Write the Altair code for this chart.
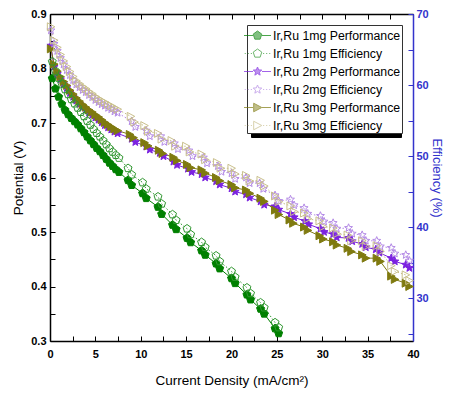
import altair as alt
import pandas as pd

# ---------------- data ----------------
series_names = ["Ir,Ru 1mg Performance", "Ir,Ru 1mg Efficiency",
                "Ir,Ru 2mg Performance", "Ir,Ru 2mg Efficiency",
                "Ir,Ru 3mg Performance", "Ir,Ru 3mg Efficiency"]

current_1mg = [0.25, 0.6, 0.95, 1.3, 1.65, 2.0, 2.35, 2.7, 3.05, 3.4, 3.75, 4.1, 4.45, 4.8, 5.15, 5.5,
               5.85, 6.2, 6.55, 6.9, 7.25, 7.6,
               8.6, 9.0, 10.2, 10.6, 11.9, 12.3, 13.5, 13.9, 15.1, 15.5, 16.7, 17.1, 18.3, 18.7,
               20.0, 20.4, 21.7, 22.1, 23.2, 23.6, 24.8, 25.2]
potential_1mg = [0.782, 0.763, 0.748, 0.735, 0.724, 0.716, 0.709, 0.703, 0.697, 0.690, 0.683, 0.675,
                 0.668, 0.661, 0.654, 0.648, 0.641, 0.634, 0.627, 0.621, 0.615, 0.610,
                 0.595, 0.586, 0.571, 0.562, 0.546, 0.533, 0.513, 0.505, 0.489, 0.481, 0.466, 0.458,
                 0.442, 0.433, 0.415, 0.406, 0.385, 0.376, 0.359, 0.350, 0.323, 0.314]
efficiency_1mg = [63.3, 62.0, 61.0, 60.2, 59.4, 58.7, 58.0, 57.4, 56.8, 56.2, 55.6, 54.95, 54.4, 53.8,
                  53.25, 52.75, 52.2, 51.65, 51.1, 50.6, 50.15, 49.75,
                  48.3, 47.4, 46.3, 45.4, 44.3, 43.3, 41.8, 41.0, 39.8, 39.0, 37.9, 37.2, 36.0, 35.2,
                  33.8, 33.0, 31.5, 30.7, 29.4, 28.7, 26.6, 25.9]

current_dense = [0.1, 0.45, 0.8, 1.15, 1.5, 1.85, 2.2, 2.55, 2.9, 3.25, 3.6, 3.95, 4.3, 4.65, 5.0,
                 5.35, 5.7, 6.05, 6.4, 6.75, 7.1, 7.45]

current_2mg_perf = current_dense + [
    9.0, 9.4, 10.6, 11.0, 12.1, 12.5, 13.6, 14.0, 15.2, 15.6, 16.7, 17.1, 18.3, 18.7, 20.0, 20.4,
    21.6, 22.0, 23.2, 23.6, 24.8, 25.2, 26.5, 26.9, 28.1, 28.5, 29.8, 30.2, 31.2, 31.6, 32.9, 33.3,
    34.4, 34.8, 35.9, 36.3, 37.6, 38.0, 39.2, 39.6]
potential_2mg = [0.842, 0.803, 0.790, 0.780, 0.771, 0.764, 0.755, 0.748, 0.741, 0.735, 0.729, 0.724,
                 0.719, 0.715, 0.710, 0.706, 0.701, 0.696, 0.692, 0.688, 0.684, 0.681,
                 0.671, 0.665, 0.657, 0.651, 0.645, 0.639, 0.629, 0.623, 0.616, 0.610, 0.606, 0.600,
                 0.593, 0.587, 0.580, 0.574, 0.569, 0.563, 0.556, 0.550, 0.547, 0.541, 0.533, 0.527,
                 0.520, 0.514, 0.506, 0.500, 0.496, 0.490, 0.489, 0.483, 0.478, 0.472, 0.468, 0.462,
                 0.452, 0.446, 0.440, 0.434]
current_2mg_eff = current_dense + [
    9.0, 9.4, 10.6, 11.0, 12.2, 12.6, 13.7, 14.1, 15.3, 15.7, 16.9, 17.3, 18.5, 18.9, 20.0, 20.4,
    21.6, 22.0, 23.1, 23.5, 24.8, 25.2, 26.5, 26.9, 28.0, 28.4, 29.8, 30.2, 31.2, 31.6, 32.9, 33.3,
    34.4, 34.8, 36.0, 36.4, 37.6, 38.0, 39.2, 39.6]
efficiency_2mg = [67.7, 65.8, 64.8, 63.8, 62.9, 62.1, 61.4, 60.7, 60.1, 59.7, 59.3, 59.0, 58.6, 58.3,
                  57.9, 57.6, 57.3, 57.1, 56.8, 56.6, 56.3, 56.1,
                  54.9, 54.1, 53.6, 52.8, 52.8, 52.0, 51.8, 51.0, 50.8, 50.0, 49.8, 49.0, 48.6, 47.8,
                  47.6, 46.8, 47.0, 46.2, 46.2, 45.4, 44.5, 43.7, 43.9, 43.1, 42.7, 41.9, 41.6, 40.8,
                  40.6, 39.8, 39.9, 39.1, 38.9, 38.1, 38.1, 37.3, 37.1, 36.3, 36.1, 35.3]

current_3mg_perf = current_dense + [
    8.8, 9.2, 10.4, 10.8, 12.0, 12.4, 13.6, 14.0, 15.1, 15.5, 16.7, 17.1, 18.3, 18.7, 20.0, 20.4,
    21.6, 22.0, 23.2, 23.6, 24.8, 25.2, 26.4, 26.8, 28.0, 28.4, 29.7, 30.1, 31.2, 31.6, 32.8, 33.2,
    34.4, 34.8, 36.0, 36.4, 37.6, 38.0, 39.2, 39.6]
potential_3mg = [0.836, 0.808, 0.795, 0.785, 0.776, 0.769, 0.760, 0.753, 0.746, 0.740, 0.734, 0.729,
                 0.724, 0.720, 0.715, 0.711, 0.706, 0.701, 0.697, 0.693, 0.689, 0.686,
                 0.679, 0.673, 0.664, 0.658, 0.650, 0.644, 0.637, 0.631, 0.624, 0.618, 0.614, 0.608,
                 0.600, 0.594, 0.587, 0.581, 0.577, 0.571, 0.562, 0.556, 0.540, 0.532, 0.522, 0.516,
                 0.509, 0.503, 0.493, 0.487, 0.482, 0.476, 0.470, 0.464, 0.458, 0.452, 0.452, 0.446,
                 0.419, 0.413, 0.406, 0.400]
current_3mg_eff = current_dense + [
    8.9, 9.3, 10.4, 10.8, 11.9, 12.3, 13.4, 13.8, 15.0, 15.4, 16.7, 17.1, 18.4, 18.8, 20.0, 20.4,
    21.6, 22.0, 23.2, 23.6, 24.8, 25.2, 26.5, 26.9, 28.0, 28.4, 29.7, 30.1, 31.2, 31.6, 32.8, 33.2,
    34.4, 34.8, 36.0, 36.4, 37.6, 38.0, 39.2, 39.6]
efficiency_3mg = [68.2, 66.3, 65.3, 64.3, 63.4, 62.6, 61.9, 61.2, 60.6, 60.2, 59.8, 59.5, 59.1, 58.8,
                  58.4, 58.1, 57.8, 57.6, 57.3, 57.1, 56.8, 56.6,
                  55.6, 54.8, 54.3, 53.5, 53.2, 52.4, 52.2, 51.4, 51.4, 50.6, 50.3, 49.5, 49.1, 48.3,
                  48.3, 47.5, 47.3, 46.5, 46.6, 45.8, 44.4, 43.6, 43.0, 42.2, 42.0, 41.2, 40.9, 40.1,
                  39.9, 39.1, 38.9, 38.1, 38.1, 37.3, 37.4, 36.6, 34.6, 33.8, 33.3, 32.5]

current_ticks = [0, 2.5, 5, 7.5, 10, 12.5, 15, 17.5, 20, 22.5, 25, 27.5, 30, 32.5, 35, 37.5, 40]
potential_ticks = [0.3, 0.35, 0.4, 0.45, 0.5, 0.55, 0.6, 0.65, 0.7, 0.75, 0.8, 0.85, 0.9]
efficiency_ticks = [25, 30, 35, 40, 45, 50, 55, 60, 65, 70]

# ---------------- tables ----------------
def table(name, xs, ys):
    return pd.DataFrame({"I": xs, "val": ys, "series": name})

perf_df = pd.concat([table(series_names[0], current_1mg, potential_1mg),
                     table(series_names[2], current_2mg_perf, potential_2mg),
                     table(series_names[4], current_3mg_perf, potential_3mg)])
eff_df = pd.concat([table(series_names[1], current_1mg, efficiency_1mg),
                    table(series_names[3], current_2mg_eff, efficiency_2mg),
                    table(series_names[5], current_3mg_eff, efficiency_3mg)])
legend_df = pd.DataFrame({"series": series_names})

# ---------------- styles ----------------
colors = ["#008000", "#2f962f", "#7b22e0", "#b48ae6", "#7f7a10", "#c9bf8c"]
fills = ["#008000", "transparent", "#7b22e0", "transparent", "#7f7a10", "transparent"]
BLUE = "#3333cc"
FONT = "Liberation Sans"

PENT = [(0, -1), (0.951, -0.309), (0.588, 0.809), (-0.588, 0.809), (-0.951, -0.309)]
STAR = [(0, -1), (0.26, -0.36), (0.951, -0.309), (0.42, 0.14), (0.588, 0.809), (0, 0.44),
        (-0.588, 0.809), (-0.42, 0.14), (-0.951, -0.309), (-0.26, -0.36)]
TRI = [(-0.85, -0.95), (0.95, 0), (-0.85, 0.95)]


def poly(pts, s=1.0):
    return "M" + "L".join(f"{x * s:.3f},{y * s:.3f}" for x, y in pts) + "Z"


def legend_path(pts, dotted):
    segs = []
    if dotted:
        a = 0.62
        while a < 1.5:
            segs.append((a, min(a + 0.12, 1.5)))
            a += 0.34
    else:
        segs.append((0.5, 1.5))
    line = "".join(f"M{a:.2f},0H{b:.2f}M{-b:.2f},0H{-a:.2f}" for a, b in segs)
    return line + poly(pts, 0.5)


marker_paths = [poly(PENT), poly(PENT), poly(STAR), poly(STAR), poly(TRI), poly(TRI)]
legend_paths = [legend_path(PENT, False), legend_path(PENT, True),
                legend_path(STAR, False), legend_path(STAR, True),
                legend_path(TRI, False), legend_path(TRI, True)]

perf_names = series_names[0::2]
eff_names = series_names[1::2]
W, H = 363, 327

xscale = alt.Scale(domain=[0, 40], nice=False)
common_axis = dict(labelFont=FONT, titleFont=FONT, labelFontWeight="bold", labelFontSize=11,
                   titleFontSize=13.5, titleFontWeight="normal", grid=False, labelFlush=False,
                   labelOverlap=False, tickSize={"expr": "-5"}, tickWidth=1, domainWidth=1.5)

x_bottom = alt.X("I:Q", scale=xscale, axis=alt.Axis(
    orient="bottom", values=current_ticks, title="Current Density (mA/cm²)",
    labelExpr="datum.value % 5 == 0 ? datum.label : ''", labelPadding=12,
    domainColor="black", tickColor="black", labelColor="black", titleColor="black",
    titlePadding=14, **common_axis))
x_top = alt.X("I:Q", scale=xscale, axis=alt.Axis(
    orient="top", values=current_ticks, labels=False, title=None,
    domainColor="black", tickColor="black", **common_axis))

y_left = alt.Y("val:Q", scale=alt.Scale(domain=[0.3, 0.9], nice=False, zero=False), axis=alt.Axis(
    orient="left", values=potential_ticks, title="Potential (V)",
    labelExpr="abs(datum.value*10 - round(datum.value*10)) < 0.001 ? format(datum.value, '.1f') : ''",
    labelPadding=9, titlePadding=5, domainColor="black", tickColor="black",
    labelColor="black", titleColor="black", **common_axis))
right_axis = dict(common_axis, titleFontSize=13)
y_right = alt.Y("val:Q", scale=alt.Scale(domain=[24, 70], nice=False, zero=False), axis=alt.Axis(
    orient="right", values=efficiency_ticks, title="Efficiency (%)",
    labelExpr="datum.value % 10 == 0 ? datum.label : ''",
    labelPadding=8, titlePadding=1, domainColor=BLUE, tickColor=BLUE,
    labelColor=BLUE, titleColor=BLUE, **right_axis))

perf_color = alt.Color("series:N", scale=alt.Scale(domain=perf_names, range=colors[0::2]), legend=None)
perf_fill = alt.Fill("series:N", scale=alt.Scale(domain=perf_names, range=fills[0::2]), legend=None)
perf_shape = alt.Shape("series:N", scale=alt.Scale(domain=perf_names, range=marker_paths[0::2]), legend=None)
eff_color = alt.Color("series:N", scale=alt.Scale(domain=eff_names, range=colors[1::2]), legend=None)
eff_fill = alt.Fill("series:N", scale=alt.Scale(domain=eff_names, range=fills[1::2]), legend=None)
eff_shape = alt.Shape("series:N", scale=alt.Scale(domain=eff_names, range=marker_paths[1::2]), legend=None)

perf_line = alt.Chart(perf_df).mark_line(strokeWidth=1).encode(x=x_bottom, y=y_left, color=perf_color)
perf_pts = alt.Chart(perf_df).mark_point(filled=False, size=70, strokeWidth=1, opacity=1).encode(
    x=x_bottom, y=y_left, color=perf_color, fill=perf_fill, shape=perf_shape)
perf_layer = alt.layer(perf_line, perf_pts)

eff_line = alt.Chart(eff_df).mark_line(strokeWidth=1, strokeDash=[1.5, 2]).encode(
    x=x_top, y=y_right, color=eff_color)
eff_pts = alt.Chart(eff_df).mark_point(filled=False, size=70, strokeWidth=1, opacity=1).encode(
    x=x_top, y=y_right, color=eff_color, fill=eff_fill, shape=eff_shape)
eff_layer = alt.layer(eff_line, eff_pts)

legend_common = dict(orient="none", title=None, padding=1, symbolSize=324, symbolStrokeWidth=1,
                     labelFont=FONT, labelFontSize=12.3, rowPadding=2, labelLimit=300)

blank_label = "'" + "\u00a0" * 37 + "'"
shadow_legend = alt.Legend(legendX=201, legendY=15, fillColor="black", strokeColor="black",
                           labelExpr=blank_label, labelOffset=129, symbolOpacity=0, **legend_common)
main_legend = alt.Legend(legendX=197, legendY=11, fillColor="white", strokeColor="#333333",
                         labelColor="black", labelOffset=6, **legend_common)

shadow = alt.Chart(legend_df).transform_filter("datum.series == 'none'").mark_point().encode(
    shape=alt.Shape("series:N", scale=alt.Scale(domain=series_names, range=legend_paths),
                    legend=shadow_legend))
legend_layer = alt.Chart(legend_df).transform_filter("datum.series == 'none'").mark_point(
    filled=False).encode(
    shape=alt.Shape("series:N", scale=alt.Scale(domain=series_names, range=legend_paths), legend=main_legend),
    color=alt.Color("series:N", scale=alt.Scale(domain=series_names, range=colors), legend=main_legend),
    fill=alt.Fill("series:N", scale=alt.Scale(domain=series_names, range=fills), legend=main_legend))

chart = alt.layer(perf_layer, eff_layer, shadow, legend_layer).resolve_scale(
    y="independent", color="independent", fill="independent", shape="independent"
).resolve_axis(x="independent").properties(
    width=W, height=H,
    autosize=alt.AutoSizeParams(type="none"),
    padding={"left": 42, "top": 6, "right": 32, "bottom": 47},
).configure_view(stroke=None).configure(font=FONT)

chart.save("out.html", embed_options={"renderer": "svg", "actions": False})
